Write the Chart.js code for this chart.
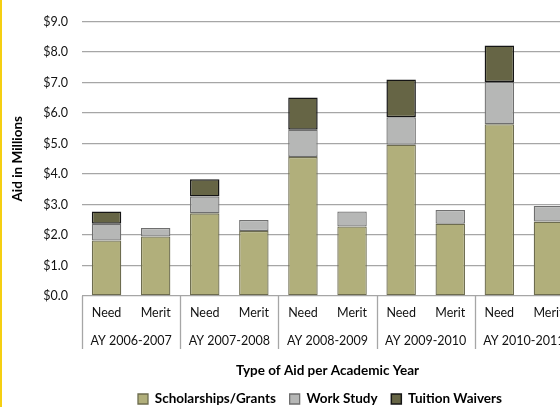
<!DOCTYPE html>
<html>
<head>
<meta charset="utf-8">
<script src="https://cdn.jsdelivr.net/npm/chart.js@4"></script>
<style>
  html, body { margin: 0; padding: 0; background: #fff; overflow: hidden; }
  #wrap { position: relative; width: 640px; height: 407px; }
  #edge { position: absolute; left: 0; top: 0; width: 2px; height: 407px; background: #f5cf12; }
</style>
</head>
<body>
<div id="wrap">
  <canvas id="aidChart" width="640" height="407"></canvas>
  <div id="edge"></div>
</div>
<script>
// aid amounts in millions, one entry per bar (Need / Merit for each year)
const aidTypes = ['Need', 'Merit', 'Need', 'Merit', 'Need', 'Merit', 'Need', 'Merit', 'Need', 'Merit'];
const academicYears = ['AY 2006-2007', 'AY 2007-2008', 'AY 2008-2009', 'AY 2009-2010', 'AY 2010-2011'];
const scholarships = [1.82, 1.95, 2.71, 2.13, 4.56, 2.28, 4.96, 2.37, 5.63, 2.44];
const workStudy = [0.55, 0.28, 0.55, 0.36, 0.89, 0.49, 0.90, 0.45, 1.39, 0.51];
const tuitionWaivers = [0.40, null, 0.57, null, 1.06, null, 1.24, null, 1.19, null];
const yTicks = [0, 1, 2, 3, 4, 5, 6, 7, 8, 9];

const FONT = 'Lato, "Open Sans", sans-serif';
const GRID = '#a6a6a6';

// vertical dividers between academic years, running through both label rows
const yearDividers = {
  id: 'yearDividers',
  afterDraw(chart) {
    const x2 = chart.scales.x2;
    const ctx = chart.ctx;
    const top = chart.chartArea.bottom;
    const bottom = top + 53;
    ctx.save();
    ctx.strokeStyle = GRID;
    ctx.lineWidth = 1.3;
    for (let i = 0; i <= academicYears.length; i++) {
      const px = Math.round(x2.getPixelForValue(i - 0.5)) + 0.5;
      ctx.beginPath();
      ctx.moveTo(px, top);
      ctx.lineTo(px, bottom);
      ctx.stroke();
    }
    ctx.restore();
  }
};

new Chart(document.getElementById('aidChart'), {
  type: 'bar',
  data: {
    labels: aidTypes,
    datasets: [
      {
        label: 'Scholarships/Grants',
        data: scholarships,
        backgroundColor: '#b1af7b',
        borderColor: '#6d6c4f',
        borderWidth: 1.3,
        borderSkipped: false
      },
      {
        label: 'Work Study',
        data: workStudy,
        backgroundColor: '#b6b7b6',
        borderColor: '#6f6f6f',
        borderWidth: 1.3,
        borderSkipped: false
      },
      {
        label: 'Tuition Waivers',
        data: tuitionWaivers,
        backgroundColor: '#666545',
        borderColor: '#151515',
        borderWidth: 1.5,
        borderSkipped: false
      }
    ]
  },
  options: {
    responsive: false,
    animation: false,
    layout: { padding: { top: 11, left: 0, right: 0, bottom: 0 } },
    datasets: { bar: { categoryPercentage: 1, barPercentage: 0.6 } },
    scales: {
      x: {
        stacked: true,
        grid: { display: false, drawTicks: false },
        border: { display: false },
        ticks: { color: '#111', padding: 9, maxRotation: 0, autoSkip: false, font: { family: FONT, size: 12.5 } }
      },
      x2: {
        type: 'category',
        labels: academicYears,
        position: 'bottom',
        offset: true,
        grid: { display: false, drawTicks: false },
        border: { display: false },
        ticks: { color: '#111', padding: 4, maxRotation: 0, autoSkip: false, font: { family: FONT, size: 12.5 } },
        title: {
          display: true,
          text: 'Type of Aid per Academic Year',
          color: '#000',
          font: { family: FONT, size: 13.5, weight: 'bold' },
          padding: { top: 10.3, bottom: 0 }
        }
      },
      y: {
        stacked: true,
        min: 0,
        max: 9,
        afterBuildTicks(scale) {
          scale.ticks = yTicks.map(v => ({ value: v }));
        },
        afterFit(scale) { scale.width = 82; },
        grid: { color: GRID, lineWidth: 1.3, drawTicks: false },
        border: { display: false },
        ticks: {
          color: '#111',
          padding: 14,
          font: { family: FONT, size: 12.5 },
          callback: v => '$' + v.toFixed(1)
        },
        title: {
          display: true,
          text: 'Aid in Millions',
          color: '#000',
          font: { family: FONT, size: 13.5, weight: 'bold' },
          padding: { top: 9.8, bottom: 0 }
        }
      },
      // empty axis that keeps the plot's right edge in place
      yRight: {
        position: 'right',
        display: true,
        grid: { display: false },
        border: { display: false },
        ticks: { display: false },
        afterFit(scale) { scale.width = 67; }
      }
    },
    plugins: {
      legend: {
        position: 'bottom',
        maxHeight: 28.5,
        labels: {
          color: '#000',
          boxWidth: 10,
          boxHeight: 10,
          padding: 13.75,
          font: { family: FONT, size: 13.5, weight: 'bold' }
        }
      },
      tooltip: { enabled: false }
    }
  },
  plugins: [yearDividers]
});
</script>
</body>
</html>
